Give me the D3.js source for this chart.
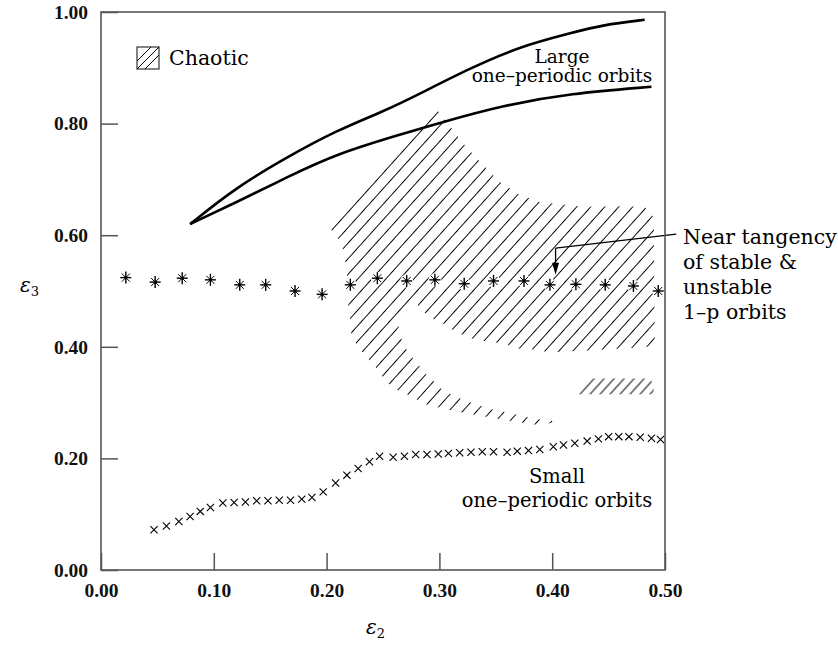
<!DOCTYPE html>
<html><head><meta charset="utf-8">
<script src="https://cdn.jsdelivr.net/npm/d3@7"></script>
<style>body{margin:0;background:#fff}</style>
</head><body>
<svg id="chart" width="838" height="646"></svg>
<script>
// ---- data ----
const xTicks = [0, 0.1, 0.2, 0.3, 0.4, 0.5];
const yTicks = [0, 0.2, 0.4, 0.6, 0.8, 1.0];

const largeUpper = [[0.079,0.620],[0.120,0.686],[0.165,0.740],[0.209,0.788],[0.253,0.824],[0.283,0.854],[0.327,0.899],[0.371,0.938],[0.416,0.962],[0.445,0.977],[0.482,0.986]];
const largeLower = [[0.079,0.620],[0.120,0.659],[0.165,0.704],[0.209,0.746],[0.268,0.782],[0.298,0.800],[0.357,0.833],[0.416,0.854],[0.488,0.866]];

const tangencyX = [0.022,0.048,0.072,0.097,0.123,0.146,0.172,0.196,0.221,0.245,0.271,0.296,0.322,0.348,0.375,0.398,0.421,0.447,0.472,0.494];
const tangencyY = [0.524,0.516,0.523,0.520,0.511,0.511,0.500,0.494,0.511,0.523,0.518,0.520,0.513,0.518,0.518,0.511,0.512,0.511,0.509,0.500];

const smallX = [0.047,0.058,0.069,0.079,0.088,0.097,0.108,0.118,0.128,0.138,0.148,0.158,0.168,0.178,0.187,0.197,0.208,0.218,0.228,0.238,0.247,0.259,0.269,0.279,0.289,0.299,0.308,0.318,0.328,0.338,0.348,0.360,0.369,0.379,0.389,0.401,0.410,0.420,0.431,0.441,0.450,0.459,0.468,0.478,0.488,0.496];
const smallY = [0.072,0.079,0.087,0.096,0.105,0.112,0.120,0.121,0.122,0.124,0.124,0.125,0.125,0.127,0.130,0.140,0.156,0.170,0.182,0.194,0.204,0.202,0.204,0.207,0.207,0.208,0.209,0.210,0.211,0.212,0.212,0.211,0.213,0.214,0.216,0.221,0.224,0.227,0.231,0.235,0.239,0.239,0.239,0.238,0.236,0.234];

const chaoticMain = [
 [0.200,0.621],[0.295,0.833],[0.300,0.819],[0.308,0.799],[0.321,0.765],[0.336,0.731],[0.345,0.714],[0.351,0.699],[0.360,0.687],[0.370,0.674],[0.380,0.666],[0.389,0.659],[0.401,0.657],[0.413,0.654],[0.428,0.651],[0.456,0.652],[0.482,0.651],[0.490,0.632],
 [0.491,0.400],[0.485,0.400],[0.463,0.397],[0.436,0.394],[0.407,0.391],[0.395,0.391],[0.380,0.396],[0.368,0.397],[0.357,0.406],[0.345,0.409],[0.333,0.412],[0.324,0.418],[0.312,0.430],[0.303,0.442],[0.293,0.451],[0.286,0.463],[0.278,0.481],
 [0.263,0.447],[0.265,0.421],[0.2695,0.399],[0.2755,0.382],[0.283,0.364],[0.289,0.349],[0.296,0.336],[0.303,0.322],[0.318,0.308],[0.333,0.296],[0.348,0.287],[0.363,0.281],[0.377,0.274],[0.392,0.269],[0.403,0.266],
 [0.391,0.259],[0.377,0.263],[0.360,0.268],[0.340,0.275],[0.324,0.281],[0.308,0.287],[0.289,0.296],[0.272,0.314],[0.262,0.323],[0.253,0.337],[0.241,0.370],[0.234,0.385],[0.227,0.403],[0.222,0.421],[0.221,0.449],[0.219,0.478],[0.218,0.535],[0.216,0.561],[0.213,0.587],[0.206,0.605]
];
const chaoticPatch = [[0.423,0.315],[0.433,0.343],[0.487,0.343],[0.490,0.330],[0.490,0.315]];

const pointerPath = [[0.510,0.602],[0.403,0.577],[0.403,0.529]];

// ---- layout ----
const W = 838, H = 646;
const m = {left:101, right:173, top:12, bottom:76};
const svg = d3.select("#chart");
const x = d3.scaleLinear().domain([0,0.5]).range([m.left, W - m.right]);
const y = d3.scaleLinear().domain([0,1]).range([H - m.bottom, m.top]);
const serif = "'DejaVu Serif', serif";
const tickFont = "'Liberation Serif', 'Times New Roman', serif";

// hatch patterns
const defs = svg.append("defs");
function hatch(id, spacing) {
  const p = defs.append("pattern").attr("id", id).attr("patternUnits","userSpaceOnUse")
    .attr("width", spacing).attr("height", 20).attr("patternTransform","rotate(42)");
  p.append("line").attr("x1", spacing/2).attr("x2", spacing/2).attr("y1", -2).attr("y2", 22)
    .attr("stroke","#000").attr("stroke-width",1.0);
}
hatch("hMain", 14*Math.sin(48*Math.PI/180));
hatch("hPatch", 10*Math.sin(48*Math.PI/180));

const poly = d3.line().x(d => x(d[0])).y(d => y(d[1])).curve(d3.curveLinearClosed);
svg.append("path").attr("d", poly(chaoticMain)).attr("fill","url(#hMain)");
svg.append("path").attr("d", poly(chaoticPatch)).attr("fill","url(#hPatch)");

// large orbit curves
const curve = d3.line().x(d => x(d[0])).y(d => y(d[1])).curve(d3.curveBasis);
[largeUpper, largeLower].forEach(c => {
  svg.append("path").attr("d", curve(c)).attr("fill","none").attr("stroke","#000").attr("stroke-width",2.6);
});

// asterisks (with white halo)
const ast = svg.append("g");
tangencyX.forEach((xv,i) => {
  const g = ast.append("g").attr("transform", `translate(${x(xv)},${y(tangencyY[i])})`);
  g.append("circle").attr("r",6.5).attr("fill","#fff");
  const segs = [[0,-6,0,6],[-5.5,0,5.5,0],[-4,-4,4,4],[-4,4,4,-4]];
  segs.forEach((s,k) => g.append("line").attr("x1",s[0]).attr("y1",s[1]).attr("x2",s[2]).attr("y2",s[3])
    .attr("stroke","#000").attr("stroke-width", k<2 ? 1.4 : 1.0));
  g.append("circle").attr("r",1.6).attr("fill","#000");
});

// crosses
const crs = svg.append("g");
smallX.forEach((xv,i) => {
  const cx = x(xv), cy = y(smallY[i]), s = 3.6;
  crs.append("path").attr("d", `M${cx-s},${cy-s}L${cx+s},${cy+s}M${cx-s},${cy+s}L${cx+s},${cy-s}`)
    .attr("stroke","#000").attr("stroke-width",1.1).attr("fill","none");
});

// pointer line with arrow
const pl = d3.line().x(d => x(d[0])).y(d => y(d[1]));
svg.append("path").attr("d", pl(pointerPath.slice(0,2))).attr("stroke","#000").attr("stroke-width",1.3).attr("fill","none");
{
  const px = x(pointerPath[1][0]), py0 = y(pointerPath[1][1]), py1 = y(pointerPath[2][1]);
  svg.append("line").attr("x1",px).attr("x2",px).attr("y1",py0).attr("y2",py1-10).attr("stroke","#000").attr("stroke-width",1.3);
  svg.append("path").attr("d", `M${px-3.5},${py1-12}L${px+3.5},${py1-12}L${px},${py1}Z`).attr("fill","#000");
}

// axes
const fmt = d3.format(".2f");
const yAxis = svg.append("g").attr("transform", `translate(${m.left},0)`)
  .call(d3.axisLeft(y).tickValues(yTicks).tickFormat(fmt).tickSize(-17).tickSizeOuter(0).tickPadding(13));
const xAxis = svg.append("g").attr("transform", `translate(0,${H - m.bottom})`)
  .call(d3.axisBottom(x).tickValues(xTicks).tickFormat(fmt).tickSize(-17).tickSizeOuter(0).tickPadding(13));
[xAxis, yAxis].forEach(a => {
  a.select(".domain").remove();
  a.selectAll(".tick line").attr("stroke","#555").attr("stroke-width",1.5);
  a.selectAll(".tick text").attr("font-family", tickFont).attr("font-size",19.5).attr("font-weight","bold").attr("fill","#111");
});

// frame
svg.append("rect").attr("x", m.left).attr("y", m.top).attr("width", W - m.left - m.right)
  .attr("height", H - m.top - m.bottom).attr("fill","none").attr("stroke","#555").attr("stroke-width",1.6);

// axis titles
function eps(tx, ty, sub) {
  const t = svg.append("text").attr("x",tx).attr("y",ty).attr("font-family",serif).attr("font-size",20).attr("font-style","italic");
  t.append("tspan").text("ε");
  t.append("tspan").attr("font-size",13).attr("font-style","normal").attr("dy",4).text(sub);
}
eps(366, 634, "2");
eps(20, 292, "3");

// legend
const lg = svg.append("g").attr("transform","translate(137,47)");
lg.append("rect").attr("width",22).attr("height",22).attr("fill","none").attr("stroke","#333").attr("stroke-width",1.2);
[[0,14,14,0],[0,22,22,0],[8,22,22,8]].forEach(s => lg.append("line").attr("x1",s[0]).attr("y1",s[1]).attr("x2",s[2]).attr("y2",s[3]).attr("stroke","#000").attr("stroke-width",1));
svg.append("text").attr("x",169).attr("y",65).attr("font-family",serif).attr("font-size",20.5).text("Chaotic");

// annotations
function label(lines, cx, y0, dy, size, anchor) {
  const t = svg.append("text").attr("font-family",serif).attr("font-size",size).attr("text-anchor",anchor);
  lines.forEach((s,i) => t.append("tspan").attr("x",cx).attr("y",y0 + i*dy).text(s));
}
label(["Large","one–periodic orbits"], 562, 63, 19, 18.5, "middle");
label(["Small","one–periodic orbits"], 557, 483, 24, 19.5, "middle");
label(["Near tangency","of stable &","unstable","1–p orbits"], 683, 244, 25, 20.5, "start");
</script>
</body></html>
